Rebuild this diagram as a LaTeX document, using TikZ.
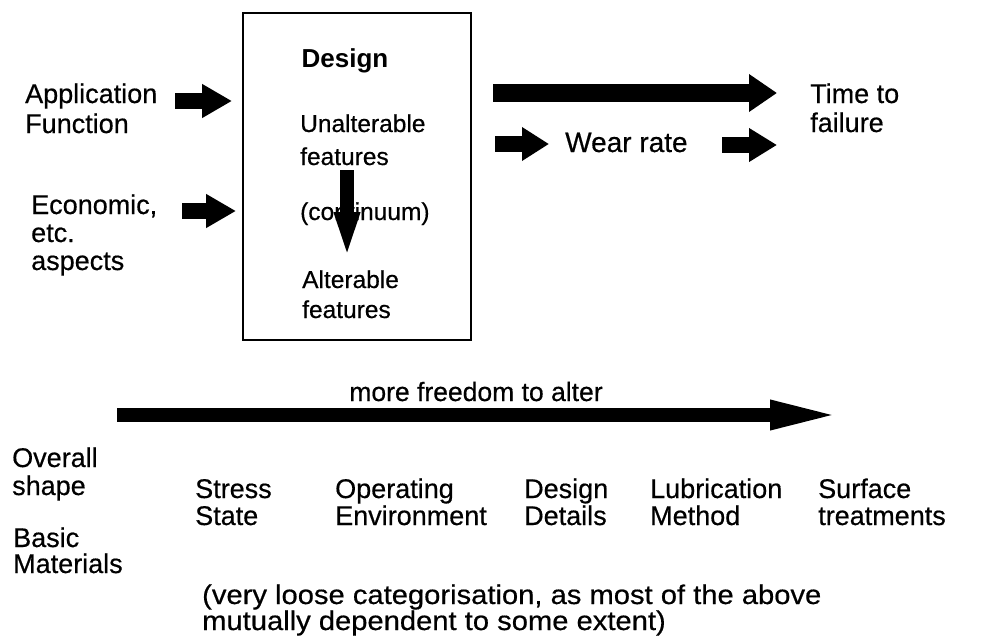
\documentclass[tikz,border=0pt]{standalone}
\usepackage{fontspec}
\setmainfont{Liberation Sans}
\newfontfamily\heavyfont{Liberation Sans}[FakeBold=0.5]
\usetikzlibrary{arrows.meta}
\tikzset{
  txt/.style 2 args={inner sep=0pt, anchor=base west, align=left, font=\heavyfont\fontsize{#1}{#2}\selectfont},
  barrow/.style n args={3}{line width=#1pt, line cap=butt, -{Triangle[length=#2pt,width=#3pt]}},
}
\begin{document}
\begin{tikzpicture}[x=1pt,y=-1pt]
\useasboundingbox (0,0) rectangle (987,642);
% design box
\node[draw, line width=1.5pt, minimum width=228pt, minimum height=327pt, inner sep=0pt] (box) at (357,176.5) {};
\node[inner sep=0pt, anchor=base, font=\fontsize{26}{30}\selectfont\bfseries] (design) at (345,67) {Design};
\node[txt={24.5}{33}] (unalt) at (300,165) {Unalterable\\features};
\node[txt={24.5}{30}] (cont) at (300,220) {(continuum)};
\node[txt={24.5}{30}] (alt) at (302,318) {Alterable\\features};
% left inputs
\node[txt={27}{30}] (app) at (25,133) {Application\\Function};
\node[txt={27}{28}] (econ) at (31,270) {Economic,\\etc.\\aspects};
% right outputs
\node[txt={28}{30}] (wear) at (565,152) {Wear rate};
\node[txt={27}{29}] (ttf) at (810,132) {Time to\\failure};
% arrows
\coordinate (a1s) at (175,101); \coordinate (a1e) at (232,101);
\coordinate (a2s) at (182,211); \coordinate (a2e) at (236,211);
\coordinate (ts) at (493,93);   \coordinate (te) at (777,93);
\coordinate (w1s) at (495,144); \coordinate (w1e) at (549,144);
\coordinate (w2s) at (722,145); \coordinate (w2e) at (777,145);
\coordinate (ds) at (347,170);  \coordinate (de) at (347,262);
\coordinate (bs) at (117,415);  \coordinate (be) at (843,415);
\draw[barrow={16}{30}{32}] (a1s) -- (a1e);
\draw[barrow={16}{30}{32}] (a2s) -- (a2e);
\draw[barrow={18}{28}{36}] (ts) -- (te);
\draw[barrow={16}{27}{32}] (w1s) -- (w1e);
\draw[barrow={16}{28}{32}] (w2s) -- (w2e);
\draw[barrow={14}{50}{22}] (ds) -- (de);
\draw[barrow={14}{73}{26}] (bs) -- (be);
% bottom
\node[inner sep=0pt, anchor=base, font=\heavyfont\fontsize{26.5}{30}\selectfont] (free) at (476,401) {more freedom to alter};
\node[txt={27}{28}] (overall) at (12,495) {Overall\\shape};
\node[txt={27}{26}] (basic) at (13,573) {Basic\\Materials};
\node[txt={27}{27}] (stress) at (195,525) {Stress\\State};
\node[txt={27}{27}] (oper) at (335,525) {Operating\\Environment};
\node[txt={27}{27}] (ddet) at (524,525) {Design\\Details};
\node[txt={27}{27}] (lub) at (650,525) {Lubrication\\Method};
\node[txt={27}{27}] (surf) at (818,525) {Surface\\treatments};
\node[txt={27}{26}] (note) at (202,630) {\scalebox{1.08}[1]{\parbox[b]{600pt}{(very loose categorisation, as most of the above\\mutually dependent to some extent)}}};
\end{tikzpicture}
\end{document}
